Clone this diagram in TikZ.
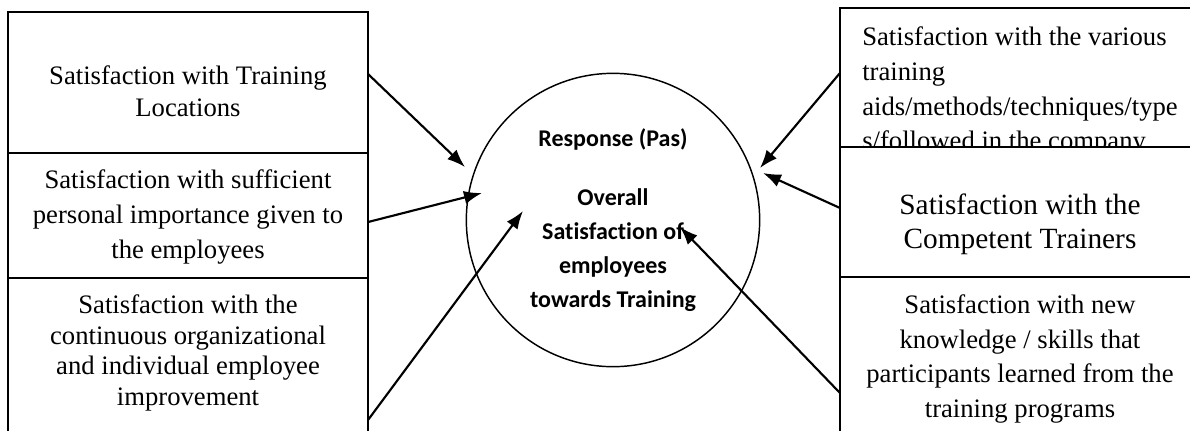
\documentclass[tikz,border=0pt]{standalone}
\usepackage{fontspec}
\setmainfont[Ligatures=NoCommon]{Liberation Serif}
\newfontfamily\calibfont[Ligatures=NoCommon]{Carlito}
\usetikzlibrary{positioning,arrows.meta}

\begin{document}
\begin{tikzpicture}[
                            x=0.75pt, y=-0.75pt,
                            >={Latex[length=13.5pt,width=10pt]},
                            box/.style={rectangle, draw, line width=1.3pt, fill=white, outer sep=0pt, inner sep=0pt, minimum width=270pt},
                            txt/.style={inner sep=0pt, align=center},
                            link/.style={->, line width=1.6pt}
                        ]
                        \useasboundingbox (0,0) rectangle (1190,430);

                        % Blocks, left
                        \node [box, anchor=north west, minimum height=105.75pt] (loc) at (8,12) {};
                        \node [box, minimum height=93.75pt, below=0pt of loc] (imp) {};
                        \node [box, minimum height=125.25pt, below=0pt of imp] (imprv) {};
                        \node [txt, font=\fontsize{20pt}{24pt}\selectfont, below=40pt of loc.north] (locT) {Satisfaction with Training\\Locations};
                        \node [txt, font=\fontsize{20pt}{26.25pt}\selectfont, below=12.5pt of imp.north] (impT) {Satisfaction with sufficient\\personal importance given to\\the employees};
                        \node [txt, font=\fontsize{20pt}{22.9pt}\selectfont, below=12.5pt of imprv.north] (imprvT) {Satisfaction with the\\continuous organizational\\and individual employee\\improvement};

                        % Blocks, right
                        \node [box, anchor=north west, minimum height=104.25pt] (aids) at (840,8) {};
                        \node [txt, align=left, font=\fontsize{20pt}{26pt}\selectfont, below right=14.1pt and 16.5pt of aids.north west] (aidsT) {Satisfaction with the various\\training\\aids/methods/techniques/type\\s/followed in the company};
                        \node [box, minimum height=97.5pt, below=0pt of aids] (trn) {};
                        \node [txt, font=\fontsize{22pt}{25.5pt}\selectfont, below=35.2pt of trn.north] (trnT) {Satisfaction with the\\Competent Trainers};
                        \node [box, minimum height=126pt, below=0pt of trn] (knw) {};
                        \node [txt, font=\fontsize{20pt}{26pt}\selectfont, below=13.2pt of knw.north] (knwT) {Satisfaction with new\\knowledge / skills that\\participants learned from the\\training programs};

                        % Response
                        \node [circle, draw, line width=1.1pt, minimum size=220pt, inner sep=0pt, align=center, font=\calibfont\bfseries\fontsize{18pt}{25.5pt}\selectfont] (resp) at (613,220) {Response (Pas)\\[18.75pt]Overall\\Satisfaction of\\employees\\towards Training};

                        % Connections
                        \draw [link] ([yshift=6.4pt]loc.east) -- ([shift={(-148,-53)}]resp.center);
                        \draw [link] ([yshift=-4.9pt]imp.east) -- ([shift={(-131,-27)}]resp.center);
                        \draw [link] ([yshift=-43.9pt]imprv.east) -- ([shift={(-90,-9)}]resp.center);
                        \draw [link] ([yshift=3.4pt]aids.west) -- ([shift={(147,-52)}]resp.center);
                        \draw [link] ([yshift=3pt]trn.west) -- ([shift={(150,-47)}]resp.center);
                        \draw [link] ([yshift=-24pt]knw.west) -- ([shift={(67,7)}]resp.center);
                    \end{tikzpicture}
\end{document}
